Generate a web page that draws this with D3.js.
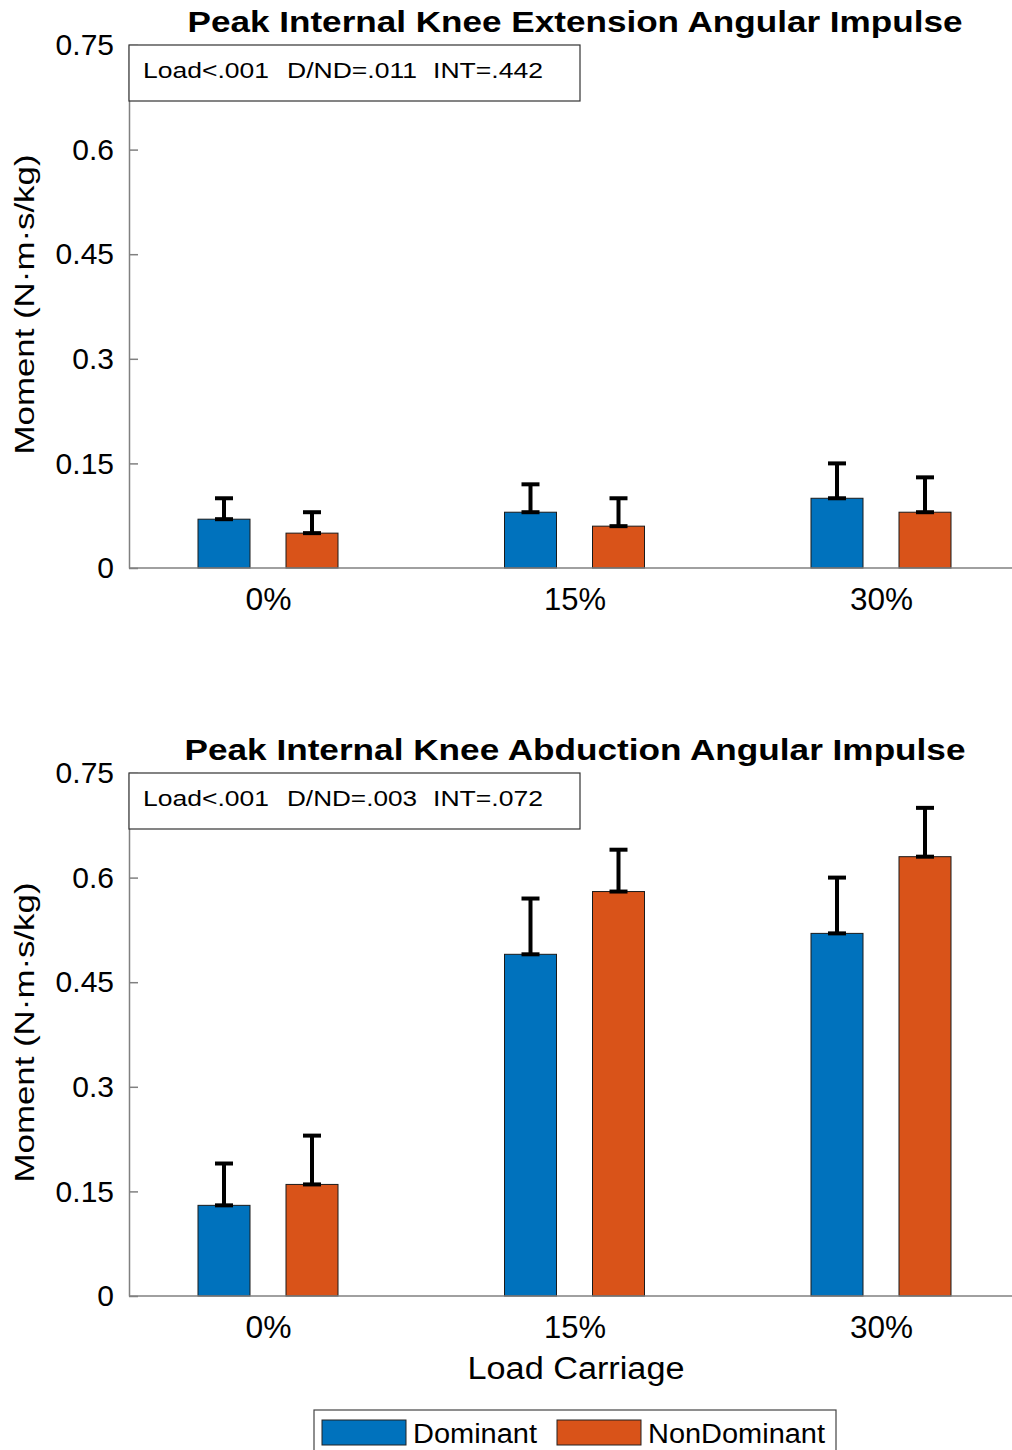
<!DOCTYPE html>
<html>
<head>
<meta charset="utf-8">
<script src="https://cdn.jsdelivr.net/npm/d3@7"></script>
<style>
  html, body { margin: 0; padding: 0; background: #fff; }
  svg { display: block; }
  text { font-family: "Liberation Sans", Arial, Helvetica, sans-serif; fill: #000; }
</style>
</head>
<body>
<svg id="chart" width="1012" height="1450"></svg>
<script>
// Load carriage conditions (x categories)
const categories = ["0%", "15%", "30%"];
const seriesNames = ["Dominant", "NonDominant"];
const seriesColors = ["#0072BD", "#D95319"];
const yTicks = [0, 0.15, 0.3, 0.45, 0.6, 0.75];
const yTickLabels = ["0", "0.15", "0.3", "0.45", "0.6", "0.75"];

// Knee extension angular impulse: means and SDs
const extTitle = "Peak Internal Knee Extension Angular Impulse";
const extStats = ["Load<.001", "D/ND=.011", "INT=.442"];
const extDominant = [0.07, 0.08, 0.10];
const extDominantSD = [0.03, 0.04, 0.05];
const extNonDominant = [0.05, 0.06, 0.08];
const extNonDominantSD = [0.03, 0.04, 0.05];

// Knee abduction angular impulse: means and SDs
const abdTitle = "Peak Internal Knee Abduction Angular Impulse";
const abdStats = ["Load<.001", "D/ND=.003", "INT=.072"];
const abdDominant = [0.13, 0.49, 0.52];
const abdDominantSD = [0.06, 0.08, 0.08];
const abdNonDominant = [0.16, 0.58, 0.63];
const abdNonDominantSD = [0.07, 0.06, 0.07];

const yLabel = "Moment (N\u00B7m\u00B7s/kg)";
const xLabel = "Load Carriage";

const svg = d3.select("#chart");
const axisColor = "#808080";

// Stretch a text element to a given rendered width
function fit(sel, w) {
  return sel.attr("textLength", w).attr("lengthAdjust", "spacingAndGlyphs");
}

function drawPanel(opts) {
  const { top, bottom, title, titleWidth, stats, means, sds, showXLabel } = opts;
  const left = 129, right = 1012;
  const g = svg.append("g");

  const y = d3.scaleLinear().domain([0, 0.75]).range([bottom, top]);
  const xPos = d3.scalePoint().domain(categories).range([268, 881]);
  const offset = d3.scalePoint().domain(seriesNames).range([-44, 44]);
  const barW = 52;

  // Title
  fit(g.append("text")
    .attr("x", 575).attr("y", top - 13)
    .attr("text-anchor", "middle")
    .attr("font-size", 30).attr("font-weight", "bold")
    .text(title), titleWidth);

  // Bars
  seriesNames.forEach((s, si) => {
    categories.forEach((c, ci) => {
      const cx = xPos(c) + offset(s);
      const v = means[si][ci];
      g.append("rect")
        .attr("x", cx - barW / 2)
        .attr("y", y(v))
        .attr("width", barW)
        .attr("height", y(0) - y(v))
        .attr("fill", seriesColors[si])
        .attr("stroke", "#1a1a1a")
        .attr("stroke-width", 1);
    });
  });

  // Error bars (upper half only, capped at both ends)
  seriesNames.forEach((s, si) => {
    categories.forEach((c, ci) => {
      const cx = xPos(c) + offset(s);
      const v = means[si][ci];
      const hi = v + sds[si][ci];
      const eb = g.append("g").attr("stroke", "#000").attr("stroke-width", 4);
      eb.append("line").attr("x1", cx).attr("x2", cx).attr("y1", y(v)).attr("y2", y(hi));
      eb.append("line").attr("x1", cx - 9).attr("x2", cx + 9).attr("y1", y(hi)).attr("y2", y(hi));
      eb.append("line").attr("x1", cx - 9).attr("x2", cx + 9).attr("y1", y(v)).attr("y2", y(v));
    });
  });

  // Y axis
  const yAxis = d3.axisLeft(y)
    .tickValues(yTicks)
    .tickFormat((d, i) => yTickLabels[i])
    .tickSizeInner(-9).tickSizeOuter(0).tickPadding(15);
  const ya = g.append("g").attr("transform", `translate(${left},0)`).call(yAxis);
  ya.select(".domain").attr("stroke", axisColor).attr("stroke-width", 1.5);
  ya.selectAll(".tick line").attr("stroke", axisColor).attr("stroke-width", 1.5);
  ya.selectAll(".tick text").attr("font-size", 30).attr("fill", "#000")
    .attr("font-family", "'Liberation Sans', Arial, sans-serif");

  // X axis (baseline across the full width)
  const xAxis = d3.axisBottom(xPos).tickSizeInner(0).tickSizeOuter(0).tickPadding(20);
  const xa = g.append("g").attr("transform", `translate(0,${bottom})`).call(xAxis);
  xa.select(".domain").remove();
  xa.append("line").attr("x1", left).attr("x2", right).attr("y1", 0).attr("y2", 0)
    .attr("stroke", axisColor).attr("stroke-width", 1.5);
  const xTickWidths = [46, 62, 63];
  xa.selectAll(".tick text").attr("font-size", 31).attr("fill", "#000")
    .attr("font-family", "'Liberation Sans', Arial, sans-serif")
    .each(function (d, i) { fit(d3.select(this), xTickWidths[i]); });

  // Y label
  fit(g.append("text")
    .attr("transform", `translate(34,${(top + bottom) / 2 - 2}) rotate(-90)`)
    .attr("text-anchor", "middle")
    .attr("font-size", 28)
    .text(yLabel), 300);

  // Statistics box
  g.append("rect")
    .attr("x", left).attr("y", top).attr("width", 451).attr("height", 56)
    .attr("fill", "#fff").attr("stroke", "#333").attr("stroke-width", 1.2);
  const statX = [143, 287, 433];
  const statW = [126, 130, 110];
  stats.forEach((s, i) => {
    fit(g.append("text")
      .attr("x", statX[i]).attr("y", top + 33)
      .attr("font-size", 22)
      .text(s), statW[i]);
  });

  if (showXLabel) {
    fit(g.append("text")
      .attr("x", 576).attr("y", bottom + 83)
      .attr("text-anchor", "middle")
      .attr("font-size", 31)
      .text(xLabel), 217);
  }
}

drawPanel({
  top: 45, bottom: 568, title: extTitle, titleWidth: 775, stats: extStats,
  means: [extDominant, extNonDominant], sds: [extDominantSD, extNonDominantSD],
  showXLabel: false
});

drawPanel({
  top: 773, bottom: 1296, title: abdTitle, titleWidth: 781, stats: abdStats,
  means: [abdDominant, abdNonDominant], sds: [abdDominantSD, abdNonDominantSD],
  showXLabel: true
});

// Legend
const legend = svg.append("g");
legend.append("rect")
  .attr("x", 314).attr("y", 1410).attr("width", 522).attr("height", 50)
  .attr("fill", "#fff").attr("stroke", "#444").attr("stroke-width", 1.2);
const legendItems = [
  { sx: 322, tx: 413, tw: 124 },
  { sx: 557, tx: 648, tw: 177 }
];
seriesNames.forEach((s, i) => {
  legend.append("rect")
    .attr("x", legendItems[i].sx).attr("y", 1420).attr("width", 84).attr("height", 25)
    .attr("fill", seriesColors[i]).attr("stroke", "#222").attr("stroke-width", 1);
  fit(legend.append("text")
    .attr("x", legendItems[i].tx).attr("y", 1443)
    .attr("font-size", 27)
    .text(s), legendItems[i].tw);
});
</script>
</body>
</html>
